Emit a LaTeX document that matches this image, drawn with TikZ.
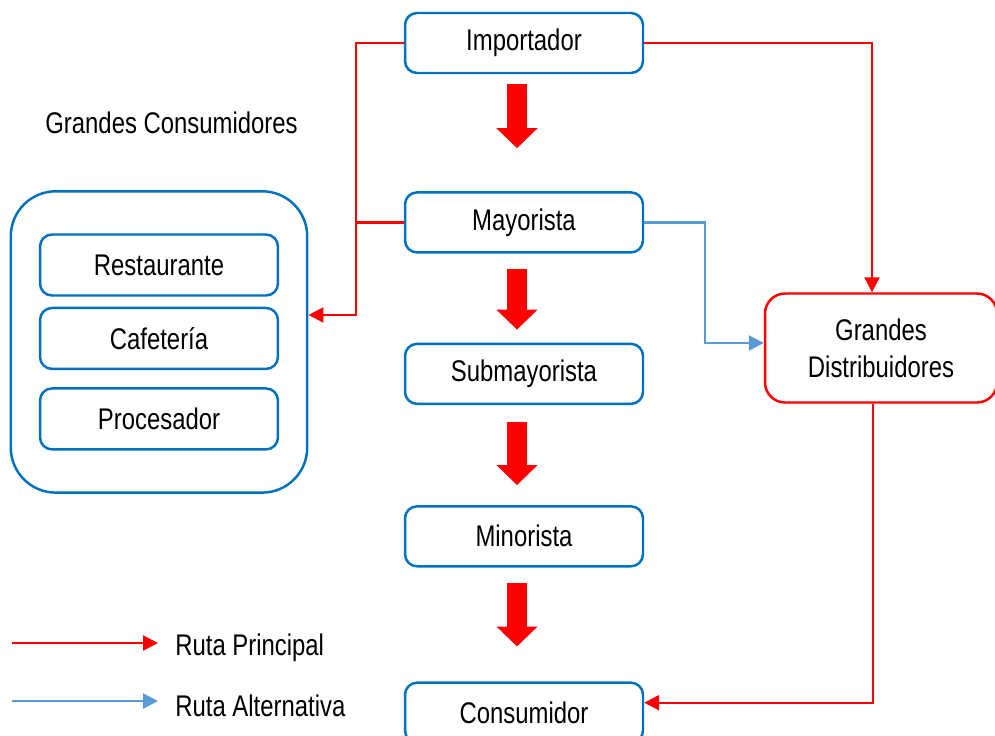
\documentclass[tikz,border=0pt]{standalone}
\usepackage{fontspec}
\setmainfont{Liberation Sans}[FakeStretch=0.8]
\usetikzlibrary{positioning,fit,arrows.meta,calc}

\definecolor{boxblue}{RGB}{0,112,192}
\definecolor{altblue}{RGB}{91,155,213}

\begin{document}
\begin{tikzpicture}[
    x=0.02cm, y=-0.02cm,
    font=\fontsize{17}{21}\selectfont,
    block/.style={
        draw=boxblue,
        rounded corners=0.24cm,
        line width=1.4pt,
        minimum width=4.76cm,
        minimum height=1.2cm,
        align=center
    },
    distr/.style={block, draw=red, rounded corners=0.4cm,
        minimum width=4.64cm, minimum height=2.18cm},
    group/.style={draw=boxblue, line width=1.4pt, rounded corners=0.9cm},
    mainline/.style={draw=red, line width=1.3pt},
    mainroute/.style={mainline, -{Triangle[length=0.3cm,width=0.3cm]}},
    altroute/.style={draw=altblue, line width=1.3pt, -{Triangle[length=0.3cm,width=0.3cm]}},
    bigarrow/.style={draw=red, line width=0.4cm, -{Triangle[length=0.4cm,width=0.8cm]}},
    legend/.style={inner sep=0pt, anchor=west}
]
\useasboundingbox (0,0) rectangle (995,735);

% ============================================================
% CADENA PRINCIPAL
% ============================================================
\node[block] (imp) at (524,43) {Importador};
\node[block, below=2.34cm of imp] (may) {Mayorista};
\node[block, below=1.78cm of may] (sub) {Submayorista};
\node[block, below=2.0cm of sub] (min) {Minorista};
\node[block, below=2.28cm of min] (cons) {Consumidor};

\draw[bigarrow, shorten <=0.2cm, shorten >=0.86cm] ([xshift=-0.14cm]imp.south) -- ([xshift=-0.14cm]may.north);
\draw[bigarrow, shorten <=0.3cm, shorten >=0.26cm] ([xshift=-0.14cm]may.south) -- ([xshift=-0.14cm]sub.north);
\draw[bigarrow, shorten <=0.34cm, shorten >=0.4cm] ([xshift=-0.14cm]sub.south) -- ([xshift=-0.14cm]min.north);
\draw[bigarrow, shorten <=0.3cm, shorten >=0.7cm] ([xshift=-0.14cm]min.south) -- ([xshift=-0.14cm]cons.north);

% ============================================================
% GRANDES CONSUMIDORES
% ============================================================
\node[legend] (titcons) at (45,123) {Grandes Consumidores};
\node[block, minimum height=1.22cm] (rest) at (159,265) {Restaurante};
\node[block, minimum height=1.22cm, below=0.2cm of rest] (caf) {Cafetería};
\node[block, minimum height=1.22cm, below=0.34cm of caf] (proc) {Procesador};
\node[group, fit=(rest)(proc), inner xsep=0.56cm, inner ysep=0.84cm] (grancons) {};

% ============================================================
% GRANDES DISTRIBUIDORES
% ============================================================
\node[distr] (gd) at (881,348) {Grandes\\Distribuidores};

% ============================================================
% RUTAS
% ============================================================
\coordinate (jl) at ([xshift=-0.96cm]imp.west);
\draw[mainroute] (imp.west) -- (jl) |- ([yshift=0.54cm]grancons.east);
\draw[mainline] (may.west) -- (may.west -| jl);
\draw[mainroute] (imp.east) -| ([xshift=-0.18cm]gd.north);
\draw[altroute] (may.east) -- ++(61,0) |- ([yshift=0.1cm]gd.west);
\draw[mainroute] ([xshift=-0.16cm]gd.south) |- ([yshift=0.2cm]cons.east);

% ============================================================
% LEYENDA
% ============================================================
\node[legend] (lprin) at (175,648) {Ruta Principal};
\node[legend] (lalt) at (175,706) {Ruta Alternativa};
\coordinate (lp0) at (12,643);
\coordinate (la0) at (12,701);
\draw[mainroute, shorten >=0.34cm] (lp0) -- (lp0 -| lprin.west);
\draw[altroute, shorten >=0.34cm] (la0) -- (la0 -| lalt.west);

\end{tikzpicture}
\end{document}
